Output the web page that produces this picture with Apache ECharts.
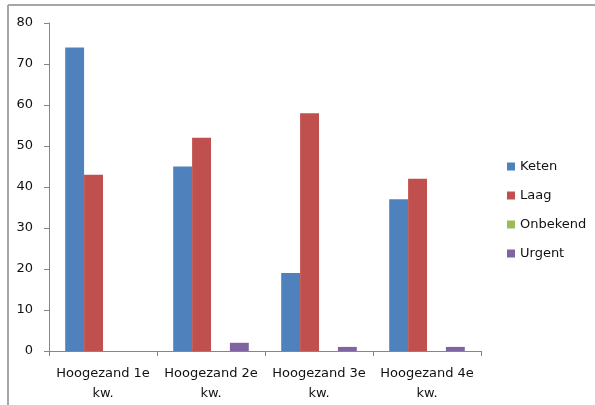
<!DOCTYPE html>
<html><head><meta charset="utf-8">
<script src="https://cdn.jsdelivr.net/npm/echarts@6/dist/echarts.min.js"></script>
<style>html,body{margin:0;padding:0;background:#fff}#c{width:595px;height:405px}</style>
</head><body><div id="c"></div>
<script>
var categories = ["Hoogezand 1e\nkw.", "Hoogezand 2e\nkw.", "Hoogezand 3e\nkw.", "Hoogezand 4e\nkw."];
var keten = [74, 45, 19, 37];
var laag = [43, 52, 58, 42];
var onbekend = [0, 0, 0, 0];
var urgent = [0, 2, 1, 1];
var yTicks = [0, 10, 20, 30, 40, 50, 60, 70, 80];

var font = "DejaVu Sans";
var chart = echarts.init(document.getElementById('c'), null, {renderer: 'canvas'});
function bar(name, data, color) {
  return {name: name, type: 'bar', data: data, barGap: '0%', barCategoryGap: '30%',
    itemStyle: {color: color}, animation: false};
}
chart.setOption({
  animation: false,
  textStyle: {fontFamily: font},
  grid: {left: 49, right: 114, top: 23, bottom: 54},
  legend: {
    orient: 'vertical', left: 507, top: 160, itemWidth: 8, itemHeight: 8, itemGap: 16,
    padding: 0, icon: 'rect',
    textStyle: {fontFamily: font, fontSize: 13, color: '#111', padding: [0,0,0,0]},
    data: ['Keten', 'Laag', 'Onbekend', 'Urgent']
  },
  xAxis: {
    type: 'category', data: categories,
    axisLine: {lineStyle: {color: '#868686', width: 1}},
    axisTick: {show: true, length: 5, alignWithLabel: false, lineStyle: {color: '#868686'}},
    axisLabel: {fontFamily: font, fontSize: 13, color: '#111', lineHeight: 20, margin: 13, interval: 0}
  },
  yAxis: {
    type: 'value', min: yTicks[0], max: yTicks[yTicks.length - 1], interval: 10,
    axisLine: {show: true, lineStyle: {color: '#868686', width: 1}},
    axisTick: {show: true, length: 5, lineStyle: {color: '#868686'}},
    splitLine: {show: false},
    axisLabel: {fontFamily: font, fontSize: 13, color: '#111', margin: 16}
  },
  series: [
    bar('Keten', keten, '#4F81BD'),
    bar('Laag', laag, '#C0504D'),
    bar('Onbekend', onbekend, '#9BBB59'),
    bar('Urgent', urgent, '#8064A2')
  ],
  graphic: [
    {type: 'line', shape: {x1: 8, y1: 5, x2: 595, y2: 5}, style: {stroke: '#a6a6a6', lineWidth: 2}},
    {type: 'line', shape: {x1: 8, y1: 5, x2: 8, y2: 405}, style: {stroke: '#a6a6a6', lineWidth: 2}}
  ]
});
</script></body></html>
